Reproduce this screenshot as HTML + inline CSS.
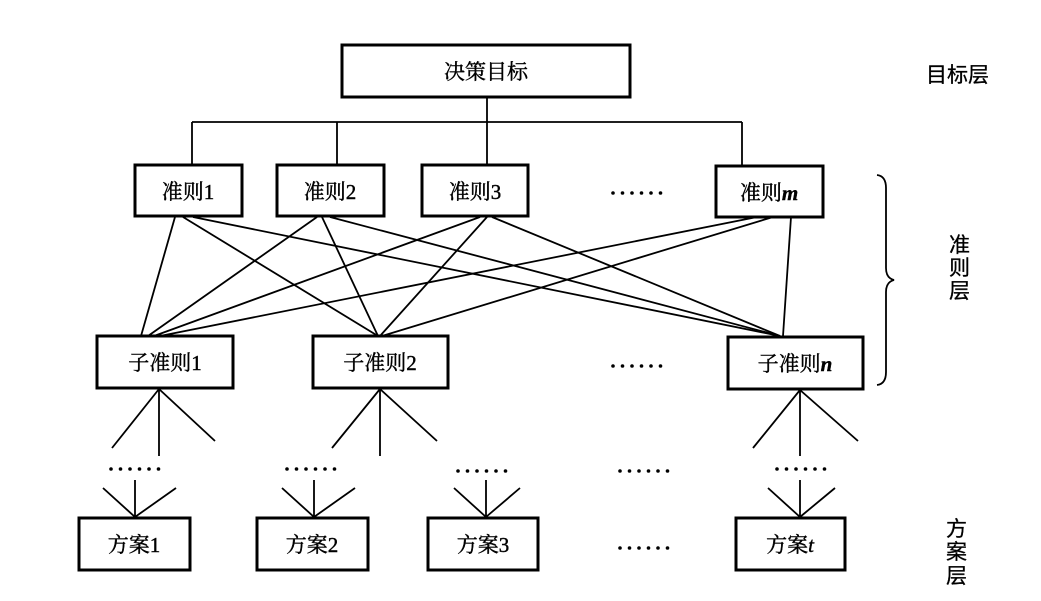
<!DOCTYPE html>
<html><head><meta charset="utf-8"><style>
html,body{margin:0;padding:0;background:#fff;}
svg{display:block;}
text{font-family:"Liberation Serif","Noto Serif CJK SC","Noto Sans CJK SC",serif;fill:#000;}
.s{font-family:"Liberation Sans","Noto Sans CJK SC",sans-serif;}
</style></head><body>
<svg width="1041" height="601" viewBox="0 0 1041 601" xmlns="http://www.w3.org/2000/svg">
<defs>
<g id="d" fill="#000"><circle cx="0" cy="0" r="1.8"/><circle cx="9.5" cy="0" r="1.8"/><circle cx="19" cy="0" r="1.8"/><circle cx="28.5" cy="0" r="1.8"/><circle cx="38" cy="0" r="1.8"/><circle cx="47.5" cy="0" r="1.8"/></g>
</defs>
<g fill="none" stroke="#000" stroke-width="3">
<rect x="342" y="45" width="288" height="52"/>
<rect x="135" y="165" width="107" height="51"/>
<rect x="277" y="165" width="107" height="51"/>
<rect x="422" y="165" width="106" height="51"/>
<rect x="716" y="166" width="107" height="51"/>
<rect x="97" y="336" width="136" height="52"/>
<rect x="313" y="336" width="135" height="52"/>
<rect x="728" y="337" width="135" height="52"/>
<rect x="79" y="518" width="111" height="52"/>
<rect x="257" y="518" width="111" height="52"/>
<rect x="428" y="518" width="110" height="52"/>
<rect x="736" y="518" width="109" height="52"/>
</g>
<g fill="none" stroke="#000" stroke-width="1.8">
<path d="M487 97V165M192 122H742M192 122V165M337 122V165M742 122V166"/>
<path d="M175 217L141 336M183 217L378 336M193 217L780 336"/>
<path d="M317 217L148 336M322 217L378 336M330 217L780 336"/>
<path d="M480 217L154 336M487 217L380 336M492 217L780 336"/>
<path d="M757 217L160 336M773 217L382 336M791 217L783 336"/>
<path d="M159 389L112 448M159 389V456M159 389L215 441"/>
<path d="M380 389L332 448M380 389V456M380 389L437 441"/>
<path d="M800 390L753 448M800 390V456M800 390L858 441"/>
<path d="M135 517L103 488M135 517V480M135 517L176 488"/>
<path d="M314 517L282 488M314 517V480M314 517L355 488"/>
<path d="M486 517L454 488M486 517V480M486 517L520 488"/>
<path d="M800 517L768 488M800 517V480M800 517L835 488"/>
<path d="M877 175Q886 176 886 188V268Q886 278 894 280Q886 282 886 292V372Q886 384 877 385"/>
</g>
<g font-size="21" text-anchor="middle" stroke="#000" stroke-width="0.4">
<text x="486" y="79">决策目标</text>
<text x="188" y="199">准则1</text>
<text x="330" y="199">准则2</text>
<text x="475" y="199">准则3</text>
<text x="769" y="200">准则<tspan font-style="italic" font-weight="bold">m</tspan></text>
<text x="165" y="370">子准则1</text>
<text x="380" y="370">子准则2</text>
<text x="795" y="371">子准则<tspan font-style="italic" font-weight="bold">n</tspan></text>
<text x="134" y="552">方案1</text>
<text x="312" y="552">方案2</text>
<text x="483" y="552">方案3</text>
<text x="790" y="552">方案<tspan font-style="italic">t</tspan></text>
</g>
<g font-size="21" stroke="#000" stroke-width="0.3">
<text class="s" x="926" y="82">目标层</text>
<text class="s" x="949" y="252">准</text>
<text class="s" x="949" y="275">则</text>
<text class="s" x="949" y="298">层</text>
<text class="s" x="946" y="536">方</text>
<text class="s" x="946" y="559">案</text>
<text class="s" x="946" y="583">层</text>
</g>
<use href="#d" x="613" y="193"/>
<use href="#d" x="613" y="366"/>
<use href="#d" x="111" y="469"/>
<use href="#d" x="287" y="469"/>
<use href="#d" x="458" y="471"/>
<use href="#d" x="620" y="471"/>
<use href="#d" x="777" y="469"/>
<use href="#d" x="620" y="548"/>
</svg>
</body></html>
